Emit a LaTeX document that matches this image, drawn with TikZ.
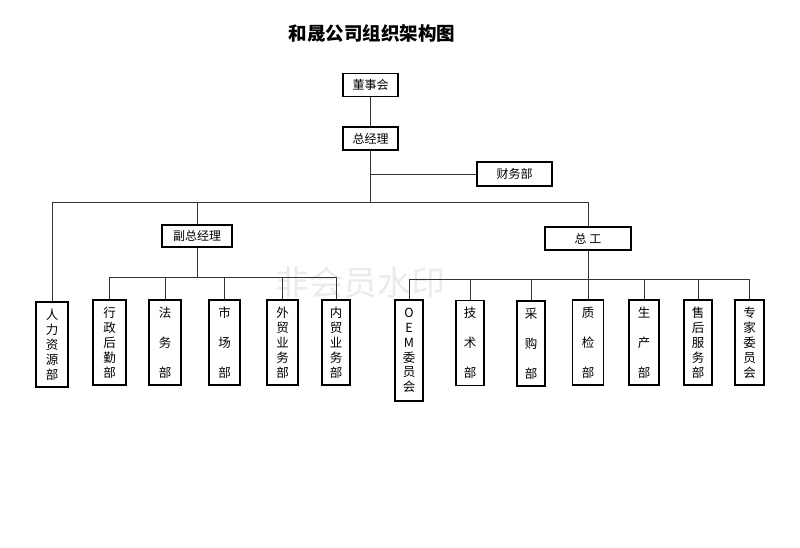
\documentclass[tikz,border=0pt]{standalone}
\usepackage{fontspec}
\newfontfamily\cjk{Noto Sans CJK SC}
\usetikzlibrary{positioning}
\tikzset{
  box/.style={draw=black, line width=1.5pt, rectangle, inner sep=0pt, font=\cjk\fontsize{12}{14}\selectfont},
  hbox/.style={box, minimum width=55pt, minimum height=23pt},
  vfive/.style={box, align=center, minimum width=30pt, minimum height=85pt, font=\cjk\fontsize{12.5}{15}\selectfont},
  vthree/.style={box, align=center, minimum width=30pt, minimum height=85pt, font=\cjk\fontsize{12.5}{30}\selectfont},
  link/.style={draw=black!80, line width=0.9pt}
}
\begin{document}
\begin{tikzpicture}[x=1pt,y=-1pt]
\useasboundingbox[fill=white] (0,0) rectangle (800,548);
% watermark
\node[text=black!8, font=\cjk\fontsize{34}{36}\selectfont] (wm) at (360,283) {非会员水印};
% title
\node[font=\cjk\bfseries\fontsize{18.5}{20}\selectfont] (title) at (372,33) {和晟公司组织架构图};
% top boxes
\node[hbox] (dsh) at (370.5,85) {董事会};
\node[hbox] (zjl) at (370.5,138.5) {总经理};
\node[hbox, minimum width=75pt, minimum height=24pt] (cw) at (514.5,174) {财务部};
\node[hbox, minimum width=70pt, minimum height=22pt] (fz) at (197,236) {副总经理};
\node[hbox, minimum width=86pt, minimum height=23pt] (zg) at (588,238.5) {总\ 工};
% left column
\node[vfive, minimum width=32pt] (rl) at (52,344.5) {人\\力\\资\\源\\部};
\node[vfive, minimum width=33pt] (xz) at (109.5,342.5) {行\\政\\后\\勤\\部};
\node[vthree, minimum width=32pt] (fw) at (165,342.5) {法\\务\\部};
\node[vthree, minimum width=31pt] (sc) at (224.5,342.5) {市\\场\\部};
\node[vfive, minimum width=31pt] (wm1) at (282.5,342.5) {外\\贸\\业\\务\\部};
\node[vfive, minimum width=28pt] (nm) at (336,342.5) {内\\贸\\业\\务\\部};
% right column
\node[box, align=center, minimum width=28pt, minimum height=101pt, font=\cjk\fontsize{12.5}{14.7}\selectfont] (oem) at (409,350.5) {O\\E\\M\\委\\员\\会};
\node[vthree, minimum width=28pt] (js) at (470,343) {技\\术\\部};
\node[vthree, minimum width=28pt] (cg) at (531,343.5) {采\\购\\部};
\node[vthree, minimum width=31pt] (zj) at (588,342.5) {质\\检\\部};
\node[vthree, minimum width=30pt] (sh) at (644,342.5) {生\\产\\部};
\node[vfive, minimum width=28pt] (shfw) at (698,342.5) {售\\后\\服\\务\\部};
\node[vfive, minimum width=29pt] (zjwy) at (749.5,342.5) {专\\家\\委\\员\\会};
% connectors
\coordinate (mainY) at (0,202);
\coordinate (subL) at (0,277);
\coordinate (subR) at (0,279);
\draw[link] (dsh.south) -- (zjl.north);
\draw[link] (zjl.south) -- (zjl.south |- mainY);
\draw[link] (cw.west) -- (cw.west -| zjl.south);
\draw[link] (rl.north) -- (rl.north |- mainY) -- (zg.north |- mainY) -- (zg.north);
\draw[link] (fz.north) -- (fz.north |- mainY);
% left sub tree
\draw[link] (fz.south) -- (fz.south |- subL);
\draw[link] (xz.north) -- (xz.north |- subL) -- (nm.north |- subL) -- (nm.north);
\draw[link] (fw.north) -- (fw.north |- subL);
\draw[link] (sc.north) -- (sc.north |- subL);
\draw[link] (wm1.north) -- (wm1.north |- subL);
% right sub tree
\draw[link] (zg.south) -- (zj.north);
\draw[link] (oem.north) -- (oem.north |- subR) -- (zjwy.north |- subR) -- (zjwy.north);
\draw[link] (js.north) -- (js.north |- subR);
\draw[link] (cg.north) -- (cg.north |- subR);
\draw[link] (sh.north) -- (sh.north |- subR);
\draw[link] (shfw.north) -- (shfw.north |- subR);
\end{tikzpicture}
\end{document}
